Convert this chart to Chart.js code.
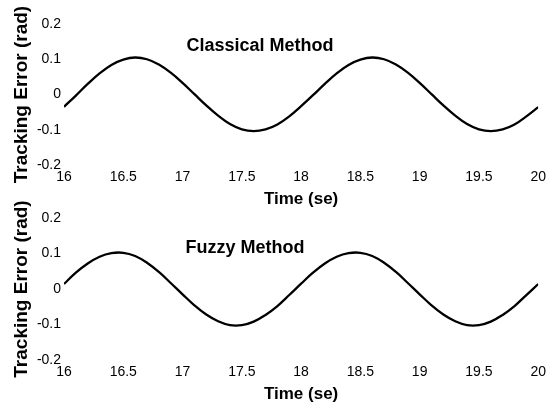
<!DOCTYPE html>
<html>
<head>
<meta charset="utf-8">
<script src="https://cdn.jsdelivr.net/npm/chart.js@4"></script>
<style>
    html, body { margin: 0; padding: 0; background: #fff; }
    #wrap { position: relative; width: 550px; height: 407px; overflow: hidden; }
    canvas { position: absolute; left: 0; }
    #classicalChart { top: 0; }
    #fuzzyChart { top: 200px; }
</style>
</head>
<body>
<div id="wrap">
    <canvas id="classicalChart" width="550" height="210"></canvas>
    <canvas id="fuzzyChart" width="550" height="207"></canvas>
</div>
<script>
const time = [
    16.0, 16.1, 16.2, 16.3, 16.4, 16.5, 16.6, 16.7, 16.8, 16.9,
    17.0, 17.1, 17.2, 17.3, 17.4, 17.5, 17.6, 17.7, 17.8, 17.9,
    18.0, 18.1, 18.2, 18.3, 18.4, 18.5, 18.6, 18.7, 18.8, 18.9,
    19.0, 19.1, 19.2, 19.3, 19.4, 19.5, 19.6, 19.7, 19.8, 19.9,
    20.0
];

const classicalError = [
    -0.035, -0.003, 0.030, 0.060, 0.084, 0.099, 0.105, 0.100, 0.085, 0.062,
    0.033, 0.001, -0.031, -0.060, -0.084, -0.099, -0.104, -0.099, -0.085, -0.062,
    -0.033, -0.002, 0.030, 0.060, 0.084, 0.099, 0.105, 0.100, 0.085, 0.062,
    0.033, 0.001, -0.031, -0.060, -0.084, -0.099, -0.104, -0.099, -0.085, -0.062,
    -0.036
];

const fuzzyError = [
    0.014, 0.046, 0.072, 0.091, 0.101, 0.102, 0.093, 0.074, 0.048, 0.017,
    -0.015, -0.046, -0.072, -0.091, -0.102, -0.102, -0.092, -0.073, -0.048, -0.017,
    0.015, 0.046, 0.072, 0.091, 0.101, 0.102, 0.093, 0.074, 0.048, 0.017,
    -0.015, -0.046, -0.072, -0.091, -0.102, -0.102, -0.092, -0.073, -0.048, -0.017,
    0.014
];

const timeTicks = [16, 16.5, 17, 17.5, 18, 18.5, 19, 19.5, 20];
const errorTicks = [-0.2, -0.1, 0, 0.1, 0.2];

const fontFamily = '"Liberation Sans", Arial, Helvetica, sans-serif';

// draws the method name inside the plot
const panelTitle = {
    id: 'panelTitle',
    afterDraw(chart, args, opts) {
        const ctx = chart.ctx;
        ctx.save();
        ctx.font = 'bold 18px ' + fontFamily;
        ctx.fillStyle = '#000';
        ctx.textAlign = 'center';
        ctx.textBaseline = 'alphabetic';
        ctx.fillText(opts.text, opts.x, opts.y);
        ctx.restore();
    }
};

function makePanel(canvasId, title, values, box) {
    const ctx = document.getElementById(canvasId).getContext('2d');
    return new Chart(ctx, {
        type: 'line',
        data: {
            datasets: [{
                data: time.map((t, i) => ({ x: t, y: values[i] })),
                borderColor: '#000',
                borderWidth: 2.3,
                pointRadius: 0,
                tension: 0.4,
                fill: false
            }]
        },
        options: {
            responsive: false,
            animation: false,
            layout: {
                padding: { top: box.top, right: 9, left: 0, bottom: 0 }
            },
            scales: {
                x: {
                    type: 'linear',
                    min: timeTicks[0],
                    max: timeTicks[timeTicks.length - 1],
                    afterBuildTicks: scale => { scale.ticks = timeTicks.map(v => ({ value: v })); },
                    afterFit: scale => { scale.height = box.xHeight; },
                    grid: { display: false, drawTicks: false },
                    border: { display: false },
                    ticks: {
                        color: '#000',
                        padding: 4,
                        maxRotation: 0,
                        autoSkip: false,
                        font: { family: fontFamily, size: 14 },
                        callback: v => String(v)
                    },
                    title: {
                        display: true,
                        text: 'Time (se)',
                        color: '#000',
                        padding: { top: 0, bottom: box.xTitlePad },
                        font: { family: fontFamily, size: 17, weight: 'bold' }
                    }
                },
                y: {
                    min: errorTicks[0],
                    max: errorTicks[errorTicks.length - 1],
                    afterBuildTicks: scale => { scale.ticks = errorTicks.map(v => ({ value: v })); },
                    afterFit: scale => { scale.width = 64; },
                    grid: { display: false, drawTicks: false },
                    border: { display: false },
                    ticks: {
                        color: '#000',
                        padding: 3,
                        font: { family: fontFamily, size: 14 },
                        callback: v => (Math.abs(v) < 1e-9 ? '0' : v.toFixed(1))
                    },
                    title: {
                        display: true,
                        text: 'Tracking Error (rad)',
                        color: '#000',
                        padding: { top: 10, bottom: 0 },
                        font: { family: fontFamily, size: 19, weight: 'bold' }
                    }
                }
            },
            plugins: {
                legend: { display: false },
                tooltip: { enabled: false },
                panelTitle: { text: title, x: box.titleX, y: box.titleY }
            }
        },
        plugins: [panelTitle]
    });
}

makePanel('classicalChart', 'Classical Method', classicalError,
    { top: 24, xHeight: 45, xTitlePad: 0, titleX: 260, titleY: 51 });
makePanel('fuzzyChart', 'Fuzzy Method', fuzzyError,
    { top: 18, xHeight: 47, xTitlePad: 2, titleX: 245, titleY: 53 });
</script>
</body>
</html>
